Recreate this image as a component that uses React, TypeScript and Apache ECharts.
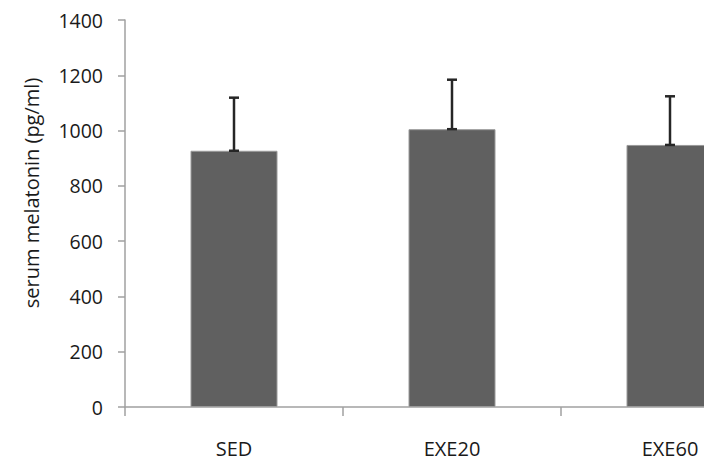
import React, { useEffect, useRef } from "react";
import * as echarts from "echarts";

const categories = ["SED", "EXE20", "EXE60"];
const means = [927, 1005, 948];
const upperErrors = [1119, 1184, 1124];
const yTicks = { min: 0, max: 1400, interval: 200 };
const yAxisTitle = "serum melatonin (pg/ml)";

export default function App() {
  const ref = useRef<HTMLDivElement>(null);
  useEffect(() => {
    if (!ref.current) return;
    const chart = echarts.init(ref.current, null, { renderer: "svg" });
    const font = "'Open Sans', sans-serif";
    chart.setOption({
      animation: false,
      grid: { left: 125, top: 20, bottom: 55, right: 21, outerBoundsMode: "none", containLabel: false },
      graphic: [
        {
          type: "text",
          x: 31,
          y: 193,
          rotation: Math.PI / 2,
          style: {
            text: yAxisTitle,
            fill: "#1a1a1a",
            font: "20px 'Open Sans', sans-serif",
            textAlign: "center",
            textVerticalAlign: "middle",
          },
        },
      ],
      xAxis: {
        type: "category",
        data: categories,
        boundaryGap: true,
        axisLine: { lineStyle: { color: "#a0a0a0", width: 1.5 } },
        axisTick: { show: true, length: 9, alignWithLabel: false, lineStyle: { color: "#a0a0a0", width: 1.5 } },
        axisLabel: { color: "#1a1a1a", fontSize: 20, fontFamily: font, margin: 31 },
      },
      yAxis: {
        type: "value",
        min: yTicks.min,
        max: yTicks.max,
        interval: yTicks.interval,
        splitLine: { show: false },
        axisLine: { show: true, lineStyle: { color: "#a0a0a0", width: 1.5 } },
        axisTick: { show: true, length: 7, lineStyle: { color: "#a0a0a0", width: 1.5 } },
        axisLabel: { color: "#1a1a1a", fontSize: 19.5, fontFamily: font, margin: 22, formatter: (v: number) => String(v) },
      },
      series: [
        {
          type: "bar",
          data: means,
          barWidth: 87,
          itemStyle: { color: "#606060", borderColor: "#9a9a9a", borderWidth: 1 },
        },
        {
          type: "custom",
          data: categories.map((_, i) => [i, means[i], upperErrors[i]]),
          z: 10,
          renderItem: (params: any, api: any) => {
            const x = api.value(0);
            const lo = api.coord([x, api.value(1)]);
            const hi = api.coord([x, api.value(2)]);
            const half = 5;
            const style = { stroke: "#262626", lineWidth: 2.5 };
            return {
              type: "group",
              children: [
                { type: "line", shape: { x1: lo[0], y1: lo[1], x2: hi[0], y2: hi[1] }, style },
                { type: "line", shape: { x1: hi[0] - half, y1: hi[1], x2: hi[0] + half, y2: hi[1] }, style },
                { type: "line", shape: { x1: lo[0] - half, y1: lo[1], x2: lo[0] + half, y2: lo[1] }, style },
              ],
            };
          },
        },
      ],
    });
    return () => chart.dispose();
  }, []);
  return (
    <div style={{ width: 704, height: 462, position: "absolute", left: 0, top: 0, overflow: "hidden", background: "#fff" }}>
      <div ref={ref} style={{ width: 800, height: 462 }} />
    </div>
  );
}
